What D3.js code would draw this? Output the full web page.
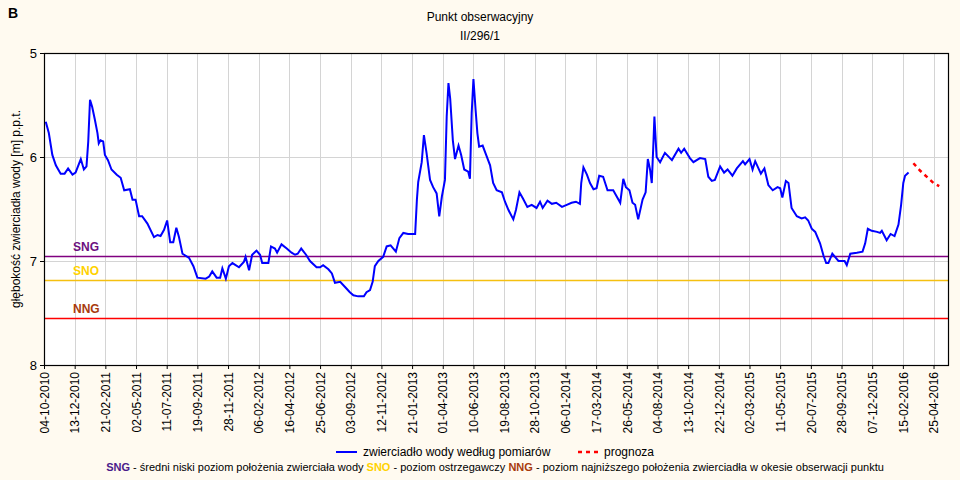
<!DOCTYPE html>
<html>
<head>
<meta charset="utf-8">
<title>Punkt obserwacyjny II/296/1</title>
<script src="https://cdn.jsdelivr.net/npm/d3@7"></script>
<style>
    body { margin: 0; background: #fffaf0; }
    svg { display: block; font-family: "Liberation Sans", Arial, sans-serif; }
</style>
</head>
<body>
<div id="chart"></div>
<script>
// series start date; x positions below are days after this date
const startDate = new Date(2010, 9, 4);

// tick labels every 70 days
const tickLabels = ["04-10-2010", "13-12-2010", "21-02-2011", "02-05-2011", "11-07-2011", "19-09-2011",
    "28-11-2011", "06-02-2012", "16-04-2012", "25-06-2012", "03-09-2012", "12-11-2012", "21-01-2013",
    "01-04-2013", "10-06-2013", "19-08-2013", "28-10-2013", "06-01-2014", "17-03-2014", "26-05-2014",
    "04-08-2014", "13-10-2014", "22-12-2014", "02-03-2015", "11-05-2015", "20-07-2015", "28-09-2015",
    "07-12-2015", "15-02-2016", "25-04-2016"];

// measured water table (days since start, depth m)
const measuredDays = [4, 11, 19, 27, 38, 47, 55, 65, 72, 84, 91, 97, 101, 105, 110, 116, 122, 125, 129, 135,
    139, 146, 154, 166, 175, 183, 196, 202, 209, 217, 224, 236, 251, 259, 266, 274, 281, 288, 295, 302,
    308, 316, 331, 341, 350, 369, 377, 384, 394, 402, 407, 415, 422, 430, 445, 456, 460, 468, 475, 485,
    493, 498, 504, 512, 518, 527, 532, 542, 554, 565, 573, 579, 587, 598, 607, 622, 630, 637, 649, 657,
    664, 676, 687, 698, 706, 717, 730, 736, 744, 750, 755, 763, 774, 782, 791, 803, 811, 820, 831, 847,
    851, 854, 862, 867, 873, 881, 888, 896, 902, 908, 915, 919, 923, 927, 933, 938, 946, 952, 959, 968,
    972, 976, 980, 985, 989, 993, 1001, 1009, 1018, 1025, 1033, 1045, 1052, 1060, 1071, 1077, 1085, 1093,
    1103, 1113, 1124, 1132, 1138, 1149, 1159, 1169, 1182, 1193, 1204, 1214, 1223, 1226, 1231, 1239, 1246,
    1254, 1261, 1267, 1276, 1286, 1299, 1307, 1315, 1322, 1328, 1336, 1343, 1349, 1356, 1366, 1373, 1378,
    1383, 1387, 1391, 1393, 1398, 1406, 1417, 1433, 1448, 1454, 1461, 1474, 1482, 1497, 1509, 1516, 1524,
    1531, 1543, 1552, 1560, 1571, 1581, 1595, 1600, 1610, 1617, 1623, 1636, 1644, 1653, 1663, 1674, 1680,
    1685, 1693, 1699, 1706, 1718, 1729, 1737, 1744, 1752, 1760, 1771, 1779, 1785, 1790, 1799, 1813, 1827,
    1832, 1840, 1855, 1868, 1874, 1880, 1889, 1901, 1908, 1912, 1923, 1932, 1941, 1950, 1956, 1961, 1965,
    1973];
const measuredLevels = [5.66, 5.77, 5.98, 6.08, 6.16, 6.16, 6.11, 6.17, 6.15, 6.02, 6.12, 6.09, 5.85, 5.45,
    5.52, 5.64, 5.77, 5.87, 5.84, 5.85, 5.98, 6.03, 6.12, 6.17, 6.20, 6.32, 6.31, 6.41, 6.41, 6.57, 6.57,
    6.64, 6.77, 6.75, 6.76, 6.70, 6.61, 6.82, 6.82, 6.68, 6.77, 6.93, 6.97, 7.05, 7.16, 7.17, 7.15, 7.10,
    7.16, 7.16, 7.07, 7.17, 7.05, 7.02, 7.06, 7.01, 6.96, 7.09, 6.94, 6.90, 6.94, 7.02, 7.02, 7.02, 6.86,
    6.88, 6.92, 6.84, 6.88, 6.92, 6.94, 6.93, 6.88, 6.94, 7.00, 7.06, 7.06, 7.04, 7.08, 7.12, 7.21, 7.20,
    7.25, 7.30, 7.33, 7.34, 7.34, 7.30, 7.28, 7.20, 7.05, 7.00, 6.96, 6.86, 6.85, 6.91, 6.78, 6.73, 6.74,
    6.74, 6.41, 6.24, 6.05, 5.79, 5.96, 6.22, 6.29, 6.35, 6.57, 6.38, 6.22, 5.61, 5.29, 5.44, 5.84, 6.02,
    5.89, 5.98, 6.12, 6.14, 6.21, 5.58, 5.25, 5.55, 5.77, 5.90, 5.89, 5.98, 6.08, 6.25, 6.32, 6.34, 6.43,
    6.51, 6.60, 6.51, 6.34, 6.40, 6.48, 6.46, 6.49, 6.43, 6.49, 6.42, 6.45, 6.44, 6.48, 6.46, 6.44, 6.43,
    6.45, 6.25, 6.10, 6.17, 6.25, 6.31, 6.30, 6.18, 6.19, 6.32, 6.32, 6.38, 6.44, 6.21, 6.29, 6.32, 6.44,
    6.46, 6.60, 6.41, 6.34, 6.02, 6.12, 6.25, 5.84, 5.61, 6.00, 6.05, 5.96, 6.03, 5.92, 5.96, 5.92, 6.01,
    6.05, 6.01, 6.02, 6.19, 6.23, 6.22, 6.09, 6.15, 6.12, 6.18, 6.11, 6.04, 6.07, 6.02, 6.12, 6.04, 6.16,
    6.11, 6.27, 6.32, 6.29, 6.30, 6.39, 6.23, 6.25, 6.49, 6.57, 6.59, 6.58, 6.61, 6.69, 6.72, 6.83, 6.95,
    7.02, 7.02, 6.93, 7.00, 7.00, 7.04, 6.93, 6.92, 6.91, 6.83, 6.69, 6.71, 6.72, 6.73, 6.71, 6.80, 6.74,
    6.76, 6.65, 6.46, 6.25, 6.18, 6.15];

// forecast
const forecastDays = [1984, 1999, 2030, 2043];
const forecastLevels = [6.06, 6.13, 6.25, 6.28];

// reference levels
const levelNames = ["SNG", "SNO", "NNG"];
const levelValues = [6.95, 7.18, 7.55];
const levelLineColors = ["#800080", "#f5c010", "#ff0000"];
const levelTextColors = ["#6b1080", "#ffd200", "#a83a0c"];
const levelDescriptions = [" - średni niski poziom położenia zwierciała wody  ",
    " - poziom ostrzegawczy  ",
    " - poziom najniższego położenia zwierciadła w okesie obserwacji punktu"];

const yTicks = [5, 6, 7, 8];

const width = 960, height = 480;
const margin = { left: 44, top: 53, right: 12, bottom: 115 };
const plotW = width - margin.left - margin.right;
const plotH = height - margin.top - margin.bottom;

const dayToDate = d => d3.timeDay.offset(startDate, d);
const parseTick = d3.timeParse("%d-%m-%Y");

const x = d3.scaleTime()
    .domain([startDate, dayToDate(2063)])
    .range([0, plotW]);
const y = d3.scaleLinear().domain([5, 8]).range([0, plotH]);

const svg = d3.select("#chart").append("svg")
    .attr("width", width)
    .attr("height", height);

svg.append("rect").attr("width", width).attr("height", height).attr("fill", "#fffaf0");

svg.append("text").attr("x", 8).attr("y", 18)
    .attr("font-size", 14).attr("font-weight", "bold").text("B");

svg.append("text").attr("x", 480).attr("y", 21).attr("text-anchor", "middle")
    .attr("font-size", 12).text("Punkt obserwacyjny");
svg.append("text").attr("x", 480).attr("y", 40).attr("text-anchor", "middle")
    .attr("font-size", 12).text("II/296/1");

const g = svg.append("g").attr("transform", `translate(${margin.left},${margin.top})`);

g.append("rect").attr("width", plotW).attr("height", plotH).attr("fill", "#fff");

const tickDates = tickLabels.map(parseTick);

// grid
g.selectAll(".vgrid").data(tickDates.slice(1)).enter().append("line")
    .attr("x1", d => Math.round(x(d)) + 0.5).attr("x2", d => Math.round(x(d)) + 0.5)
    .attr("y1", 0).attr("y2", plotH)
    .attr("stroke", "#d4d4d4");
g.selectAll(".hgrid").data([6, 7]).enter().append("line")
    .attr("x1", 0).attr("x2", plotW)
    .attr("y1", d => Math.round(y(d)) + 0.5).attr("y2", d => Math.round(y(d)) + 0.5)
    .attr("stroke", "#d4d4d4");

// reference level lines
levelNames.forEach((name, i) => {
    const yy = Math.round(y(levelValues[i])) + 0.5;
    g.append("line").attr("x1", 0).attr("x2", plotW).attr("y1", yy).attr("y2", yy)
        .attr("stroke", levelLineColors[i]).attr("stroke-width", 1.3);
    g.append("text").attr("x", 29).attr("y", yy - 6)
        .attr("font-size", 12).attr("font-weight", "bold")
        .attr("fill", levelTextColors[i]).text(name);
});

// measured line
const line = d3.line()
    .x(d => x(dayToDate(d[0])))
    .y(d => y(d[1]));

g.append("path")
    .datum(measuredDays.map((d, i) => [d, measuredLevels[i]]))
    .attr("d", line)
    .attr("fill", "none").attr("stroke", "#0000ff").attr("stroke-width", 2);

g.append("path")
    .datum(forecastDays.map((d, i) => [d, forecastLevels[i]]))
    .attr("d", line)
    .attr("fill", "none").attr("stroke", "#ff0000").attr("stroke-width", 2.5)
    .attr("stroke-dasharray", "4,4");

// axes
const xAxis = d3.axisBottom(x).tickValues(tickDates)
    .tickFormat((d, i) => tickLabels[i]).tickSizeOuter(0).tickSize(4);
const xg = g.append("g").attr("transform", `translate(0,${plotH})`).call(xAxis);
xg.select(".domain").remove();
xg.selectAll("line").attr("stroke", "#000");
xg.selectAll("text")
    .attr("font-size", 12).attr("font-family", "Liberation Sans, Arial, sans-serif")
    .attr("fill", "#000")
    .attr("transform", "rotate(-90)")
    .attr("text-anchor", "end")
    .attr("x", -7).attr("y", 0).attr("dy", "0.35em");

const yAxis = d3.axisLeft(y).tickValues(yTicks).tickFormat(d3.format("d"))
    .tickSize(4).tickSizeOuter(0);
const yg = g.append("g").call(yAxis);
yg.select(".domain").remove();
yg.selectAll("line").attr("stroke", "#000");
yg.selectAll("text")
    .attr("font-size", 13).attr("font-family", "Liberation Sans, Arial, sans-serif")
    .attr("fill", "#000").attr("x", -7);

g.append("rect").attr("x", 0.5).attr("y", 0.5).attr("width", plotW).attr("height", plotH)
    .attr("fill", "none").attr("stroke", "#000").attr("stroke-width", 1.2);

svg.append("text")
    .attr("transform", `translate(20,${margin.top + plotH / 2}) rotate(-90)`)
    .attr("text-anchor", "middle").attr("font-size", 12)
    .text("głębokość zwierciadła wody [m] p.p.t.");

// legend
const leg = svg.append("g").attr("font-size", 12);
leg.append("line").attr("x1", 336).attr("x2", 357).attr("y1", 452).attr("y2", 452)
    .attr("stroke", "#0000ff").attr("stroke-width", 2);
leg.append("text").attr("x", 363).attr("y", 456).text("zwierciadło wody według pomiarów");
leg.append("line").attr("x1", 578).attr("x2", 598).attr("y1", 452).attr("y2", 452)
    .attr("stroke", "#ff0000").attr("stroke-width", 2.5).attr("stroke-dasharray", "4,4");
leg.append("text").attr("x", 604).attr("y", 456).text("prognoza");

const note = svg.append("text").attr("x", 495).attr("y", 471)
    .attr("text-anchor", "middle").attr("font-size", 11);
levelNames.forEach((name, i) => {
    note.append("tspan").attr("font-weight", "bold").attr("fill", i === 0 ? "#4b1a8a" : levelTextColors[i]).text(name);
    note.append("tspan").attr("fill", "#000").text(levelDescriptions[i]);
});
</script>
</body>
</html>
